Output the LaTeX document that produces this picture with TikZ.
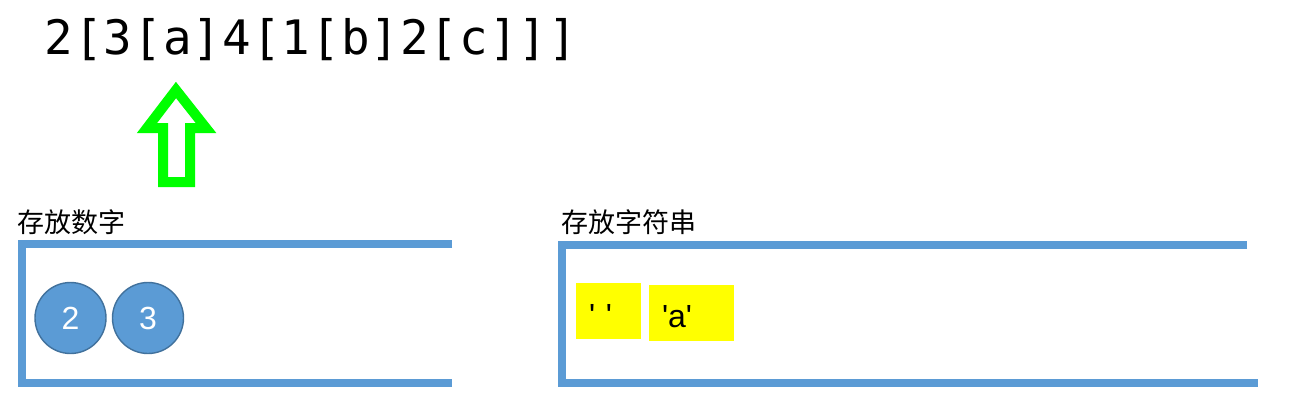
\documentclass[tikz,border=0pt]{standalone}
\usepackage{fontspec}
\setmainfont{Liberation Sans}
\newfontfamily\cjk{Noto Sans CJK SC}
\newfontfamily\monofnt{DejaVu Sans Mono}[LetterSpace=2.2]
\newfontfamily\plainsans{Liberation Sans}
\definecolor{boxblue}{HTML}{5B9BD5}
\definecolor{rimblue}{HTML}{41719C}
\definecolor{arrowgreen}{HTML}{00FF00}
\definecolor{cellyellow}{HTML}{FFFF00}
\tikzset{
  wall/.style={draw=boxblue, line width=8pt, line join=miter, line cap=butt},
  numball/.style={circle, minimum size=71pt, inner sep=0pt, fill=boxblue, draw=rimblue, line width=1.4pt, text=white, font=\plainsans\fontsize{32}{32}\selectfont},
  strcell/.style={fill=cellyellow, minimum height=56pt, inner ysep=0pt, inner xsep=13pt, align=left, text height=30pt, text depth=0pt, font=\plainsans\fontsize{32}{32}\selectfont},
  caption/.style={anchor=base west, inner sep=0pt, font=\cjk\fontsize{27}{27}\selectfont},
}
\begin{document}
\begin{tikzpicture}[x=1pt, y=-1pt]
\useasboundingbox (0,0) rectangle (1290,410);
% expression
\node[anchor=base west, inner sep=0pt, font=\monofnt\fontsize{47.5}{47.5}\selectfont] (expr) at (44.5,54) {2[3[a]4[1[b]2[c]]]};
% green pointer arrow
\draw[draw=arrowgreen, line width=10pt, line join=miter]
  (176,90) -- (206,128) -- (190,128) -- (190,182) -- (163,182) -- (163,128) -- (147,128) -- cycle;
% number stack
\node[caption] (numlabel) at (17,232) {存放数字};
\draw[wall] (452,244) -- (21.5,244) -- (21.5,383) -- (452,383);
\node[numball] (n2) at (70.5,318) {2};
\node[numball] (n3) at (148,318) {3};
% string stack
\node[caption] (strlabel) at (561,232) {存放字符串};
\draw[wall] (1247,245) -- (561.5,245) -- (561.5,383) -- (1258,383);
\node[strcell, text width=39pt] (s1) at (608.5,311) {' '};
\node[strcell, text width=59pt] (s2) at (691.5,312.5) {'a'};
\end{tikzpicture}
\end{document}
